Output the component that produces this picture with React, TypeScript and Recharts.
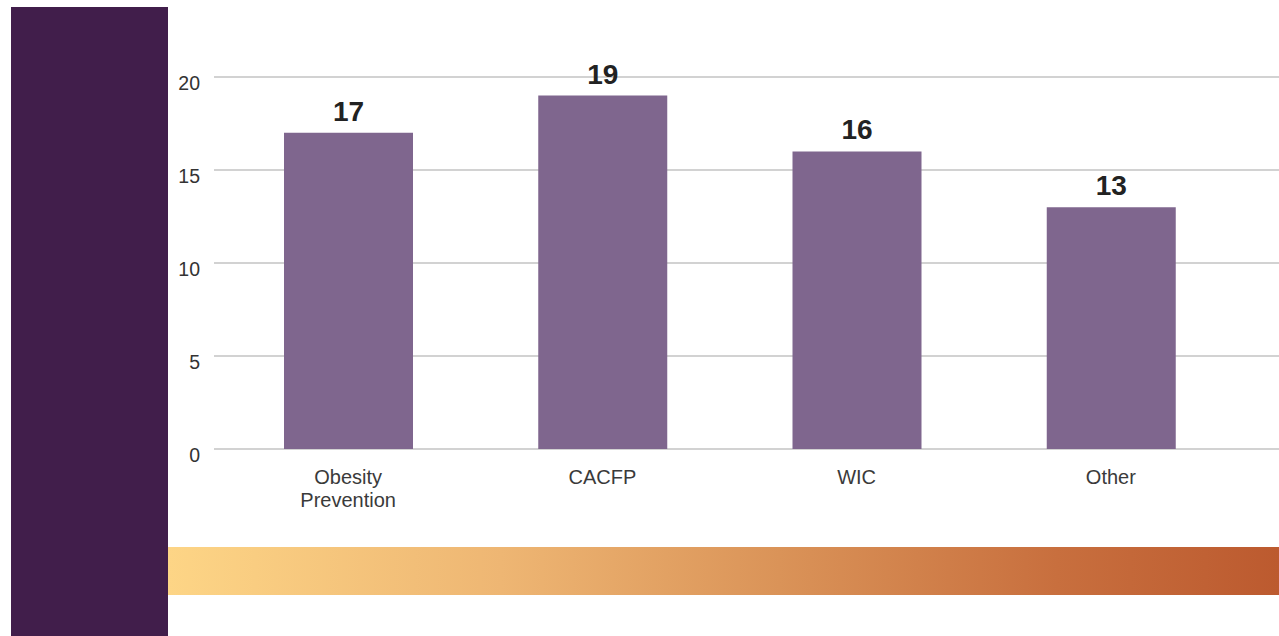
import React from "react";
import { BarChart, Bar, XAxis, YAxis, CartesianGrid, LabelList } from "recharts";

const categories = ["Obesity Prevention", "CACFP", "WIC", "Other"];
const counts = [17, 19, 16, 13];
const yTicks = [0, 5, 10, 15, 20];

const data = categories.map((name, i) => ({ name, value: counts[i] }));

const FONT = "'Liberation Sans', Arial, Helvetica, sans-serif";

const XTick = (props: any) => {
  const { x, y, payload } = props;
  const words = String(payload.value).split(" ");
  return (
    <text x={x} y={y + 35} textAnchor="middle" fill="#3a3a3a" fontSize={20} fontFamily={FONT}>
      {words.map((w: string, i: number) => (
        <tspan key={i} x={x} dy={i === 0 ? 0 : 23}>
          {w}
        </tspan>
      ))}
    </text>
  );
};

export default function App() {
  return (
    <div style={{ position: "absolute", left: 0, top: 0, width: 1279, height: 636, background: "#fff", overflow: "hidden", fontFamily: FONT }}>
      <div style={{ position: "absolute", left: 11, top: 7, width: 157, height: 629, background: "#411E4B" }} />
      <div
        style={{
          position: "absolute",
          left: 168,
          top: 547,
          width: 1111,
          height: 48,
          background: "linear-gradient(to right, #FDD586 0%, #EEB673 30%, #DA9358 55%, #C86F3E 80%, #BC5A2F 100%)",
        }}
      />
      <div style={{ position: "absolute", left: 0, top: 0 }}>
        <BarChart width={1279} height={636} data={data} margin={{ top: 77, right: 0, bottom: 127, left: 154 }}>
          <CartesianGrid vertical={false} stroke="#d2d2d2" strokeWidth={2} />
          <XAxis
            dataKey="name"
            axisLine={false}
            tickLine={false}
            tickSize={0}
            tickMargin={0}
            height={60}
            interval={0}
            padding={{ left: 7, right: 41 }}
            tick={<XTick />}
          />
          <YAxis
            width={60}
            domain={[0, 20]}
            ticks={yTicks}
            axisLine={false}
            tickLine={false}
            tickSize={0}
            tickMargin={14}
            tick={{ fill: "#333", fontSize: 19.5, fontFamily: FONT, dy: 6 }}
          />
          <Bar dataKey="value" fill="#7F668E" barSize={129} isAnimationActive={false}>
            <LabelList
              dataKey="value"
              position="top"
              offset={12}
              fill="#222"
              fontSize={28}
              fontWeight="bold"
              fontFamily={FONT}
            />
          </Bar>
        </BarChart>
      </div>
    </div>
  );
}
